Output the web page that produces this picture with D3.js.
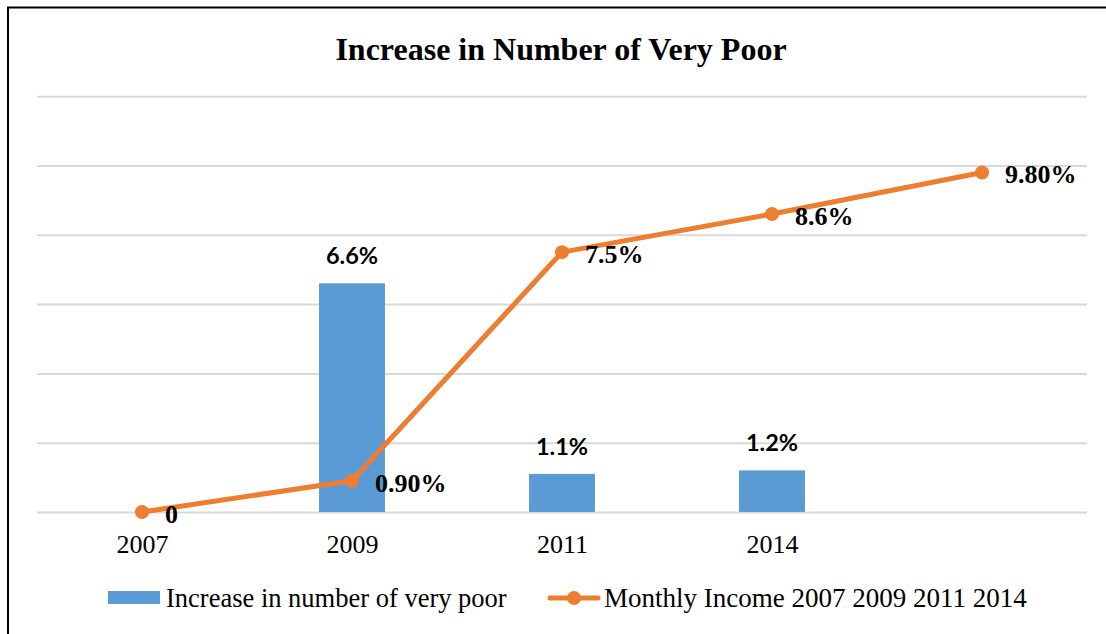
<!DOCTYPE html>
<html>
<head>
<meta charset="utf-8">
<script src="https://cdn.jsdelivr.net/npm/d3@7"></script>
<style>
  html, body { margin: 0; padding: 0; background: #fff; }
  svg { display: block; }
</style>
</head>
<body>
<svg id="chart" width="1106" height="634"></svg>
<script>
// Categories along the x axis (the fifth slot carries no year label)
const categories = ["2007", "2009", "2011", "2014", ""];
// Increase in number of very poor (%), shown as columns
const poorValues = [null, 6.6, 1.1, 1.2, null];
const poorLabels = ["", "6.6%", "1.1%", "1.2%", ""];
// Monthly income change (%), shown as a line
const incomeValues = [0, 0.9, 7.5, 8.6, 9.8];
const incomeLabels = ["0", "0.90%", "7.5%", "8.6%", "9.80%"];
// Value axis gridline positions
const yTicks = [0, 2, 4, 6, 8, 10, 12];

const svg = d3.select("#chart");

const plot = { left: 37, right: 1087, top: 96.2, bottom: 512 };
const barColor = "#5B9BD5";
const lineColor = "#ED7D31";
const gridColor = "#D9D9D9";
const serif = "'Liberation Serif', 'Times New Roman', serif";
const sans = "Lato, 'Open Sans', sans-serif";

// Frame around the chart area
svg.append("path")
  .attr("d", "M8,634 L8,7.5 L1106,7.5")
  .attr("fill", "none")
  .attr("stroke", "#000")
  .attr("stroke-width", 2);

// Title
svg.append("text")
  .attr("x", 561)
  .attr("y", 60)
  .attr("text-anchor", "middle")
  .attr("font-family", serif)
  .attr("font-weight", "bold")
  .attr("font-size", 32)
  .text("Increase in Number of Very Poor");

const x = d3.scaleBand()
  .domain(categories.map((c, i) => i))
  .range([plot.left, plot.right])
  .paddingInner(0.686)
  .paddingOuter(0.343);

const xp = d3.scalePoint()
  .domain(categories.map((c, i) => i))
  .range([plot.left, plot.right])
  .padding(0.5);

const y = d3.scaleLinear()
  .domain([0, 12])
  .range([plot.bottom, plot.top]);

// Horizontal gridlines
const yAxis = d3.axisLeft(y)
  .tickValues(yTicks)
  .tickSize(-(plot.right - plot.left))
  .tickFormat("");
const gy = svg.append("g")
  .attr("transform", `translate(${plot.left},0)`)
  .call(yAxis);
gy.select(".domain").remove();
gy.selectAll(".tick line")
  .attr("stroke", gridColor)
  .attr("stroke-width", 2);

// Category axis labels
const xAxis = d3.axisBottom(xp)
  .tickSize(0)
  .tickPadding(0)
  .tickFormat(i => categories[i]);
const gx = svg.append("g")
  .attr("transform", `translate(0,${plot.bottom})`)
  .call(xAxis);
gx.select(".domain").remove();
gx.selectAll(".tick text")
  .attr("dy", null)
  .attr("y", 41)
  .attr("fill", "#000")
  .attr("font-family", serif)
  .attr("font-size", 26);

// Columns
const barData = poorValues.map((v, i) => ({ i, v, label: poorLabels[i] })).filter(d => d.v != null);
svg.append("g").selectAll("rect")
  .data(barData)
  .join("rect")
  .attr("x", d => x(d.i))
  .attr("width", x.bandwidth())
  .attr("y", d => y(d.v))
  .attr("height", d => y(0) - y(d.v))
  .attr("fill", barColor);

svg.append("g").selectAll("text")
  .data(barData)
  .join("text")
  .attr("x", d => x(d.i) + x.bandwidth() / 2)
  .attr("y", d => y(d.v) - 19)
  .attr("text-anchor", "middle")
  .attr("font-family", sans)
  .attr("font-weight", "bold")
  .attr("font-size", 23.5)
  .attr("fill", "#000")
  .text(d => d.label);

// Income line
const lineData = incomeValues.map((v, i) => ({ i, v, label: incomeLabels[i] }));
const line = d3.line().x(d => xp(d.i)).y(d => y(d.v));
svg.append("path")
  .datum(lineData)
  .attr("d", line)
  .attr("fill", "none")
  .attr("stroke", lineColor)
  .attr("stroke-width", 5)
  .attr("stroke-linejoin", "round")
  .attr("stroke-linecap", "round");

svg.append("g").selectAll("circle")
  .data(lineData)
  .join("circle")
  .attr("cx", d => xp(d.i))
  .attr("cy", d => y(d.v))
  .attr("r", 7)
  .attr("fill", lineColor);

svg.append("g").selectAll("text")
  .data(lineData)
  .join("text")
  .attr("x", d => xp(d.i) + 23)
  .attr("y", d => y(d.v) + 11)
  .attr("font-family", serif)
  .attr("font-weight", "bold")
  .attr("font-size", 26)
  .attr("fill", "#000")
  .text(d => d.label);

// Legend
const legend = svg.append("g");
legend.append("rect")
  .attr("x", 108).attr("y", 591)
  .attr("width", 52).attr("height", 13)
  .attr("fill", barColor);
legend.append("text")
  .attr("x", 166).attr("y", 607)
  .attr("font-family", serif)
  .attr("font-size", 26.5)
  .attr("fill", "#000")
  .text("Increase in number of very poor");

legend.append("line")
  .attr("x1", 550).attr("x2", 598)
  .attr("y1", 598).attr("y2", 598)
  .attr("stroke", lineColor)
  .attr("stroke-width", 5)
  .attr("stroke-linecap", "round");
legend.append("circle")
  .attr("cx", 574).attr("cy", 598).attr("r", 7)
  .attr("fill", lineColor);
legend.append("text")
  .attr("x", 604).attr("y", 607)
  .attr("font-family", serif)
  .attr("font-size", 27)
  .attr("fill", "#000")
  .text("Monthly Income 2007 2009 2011 2014");
</script>
</body>
</html>
